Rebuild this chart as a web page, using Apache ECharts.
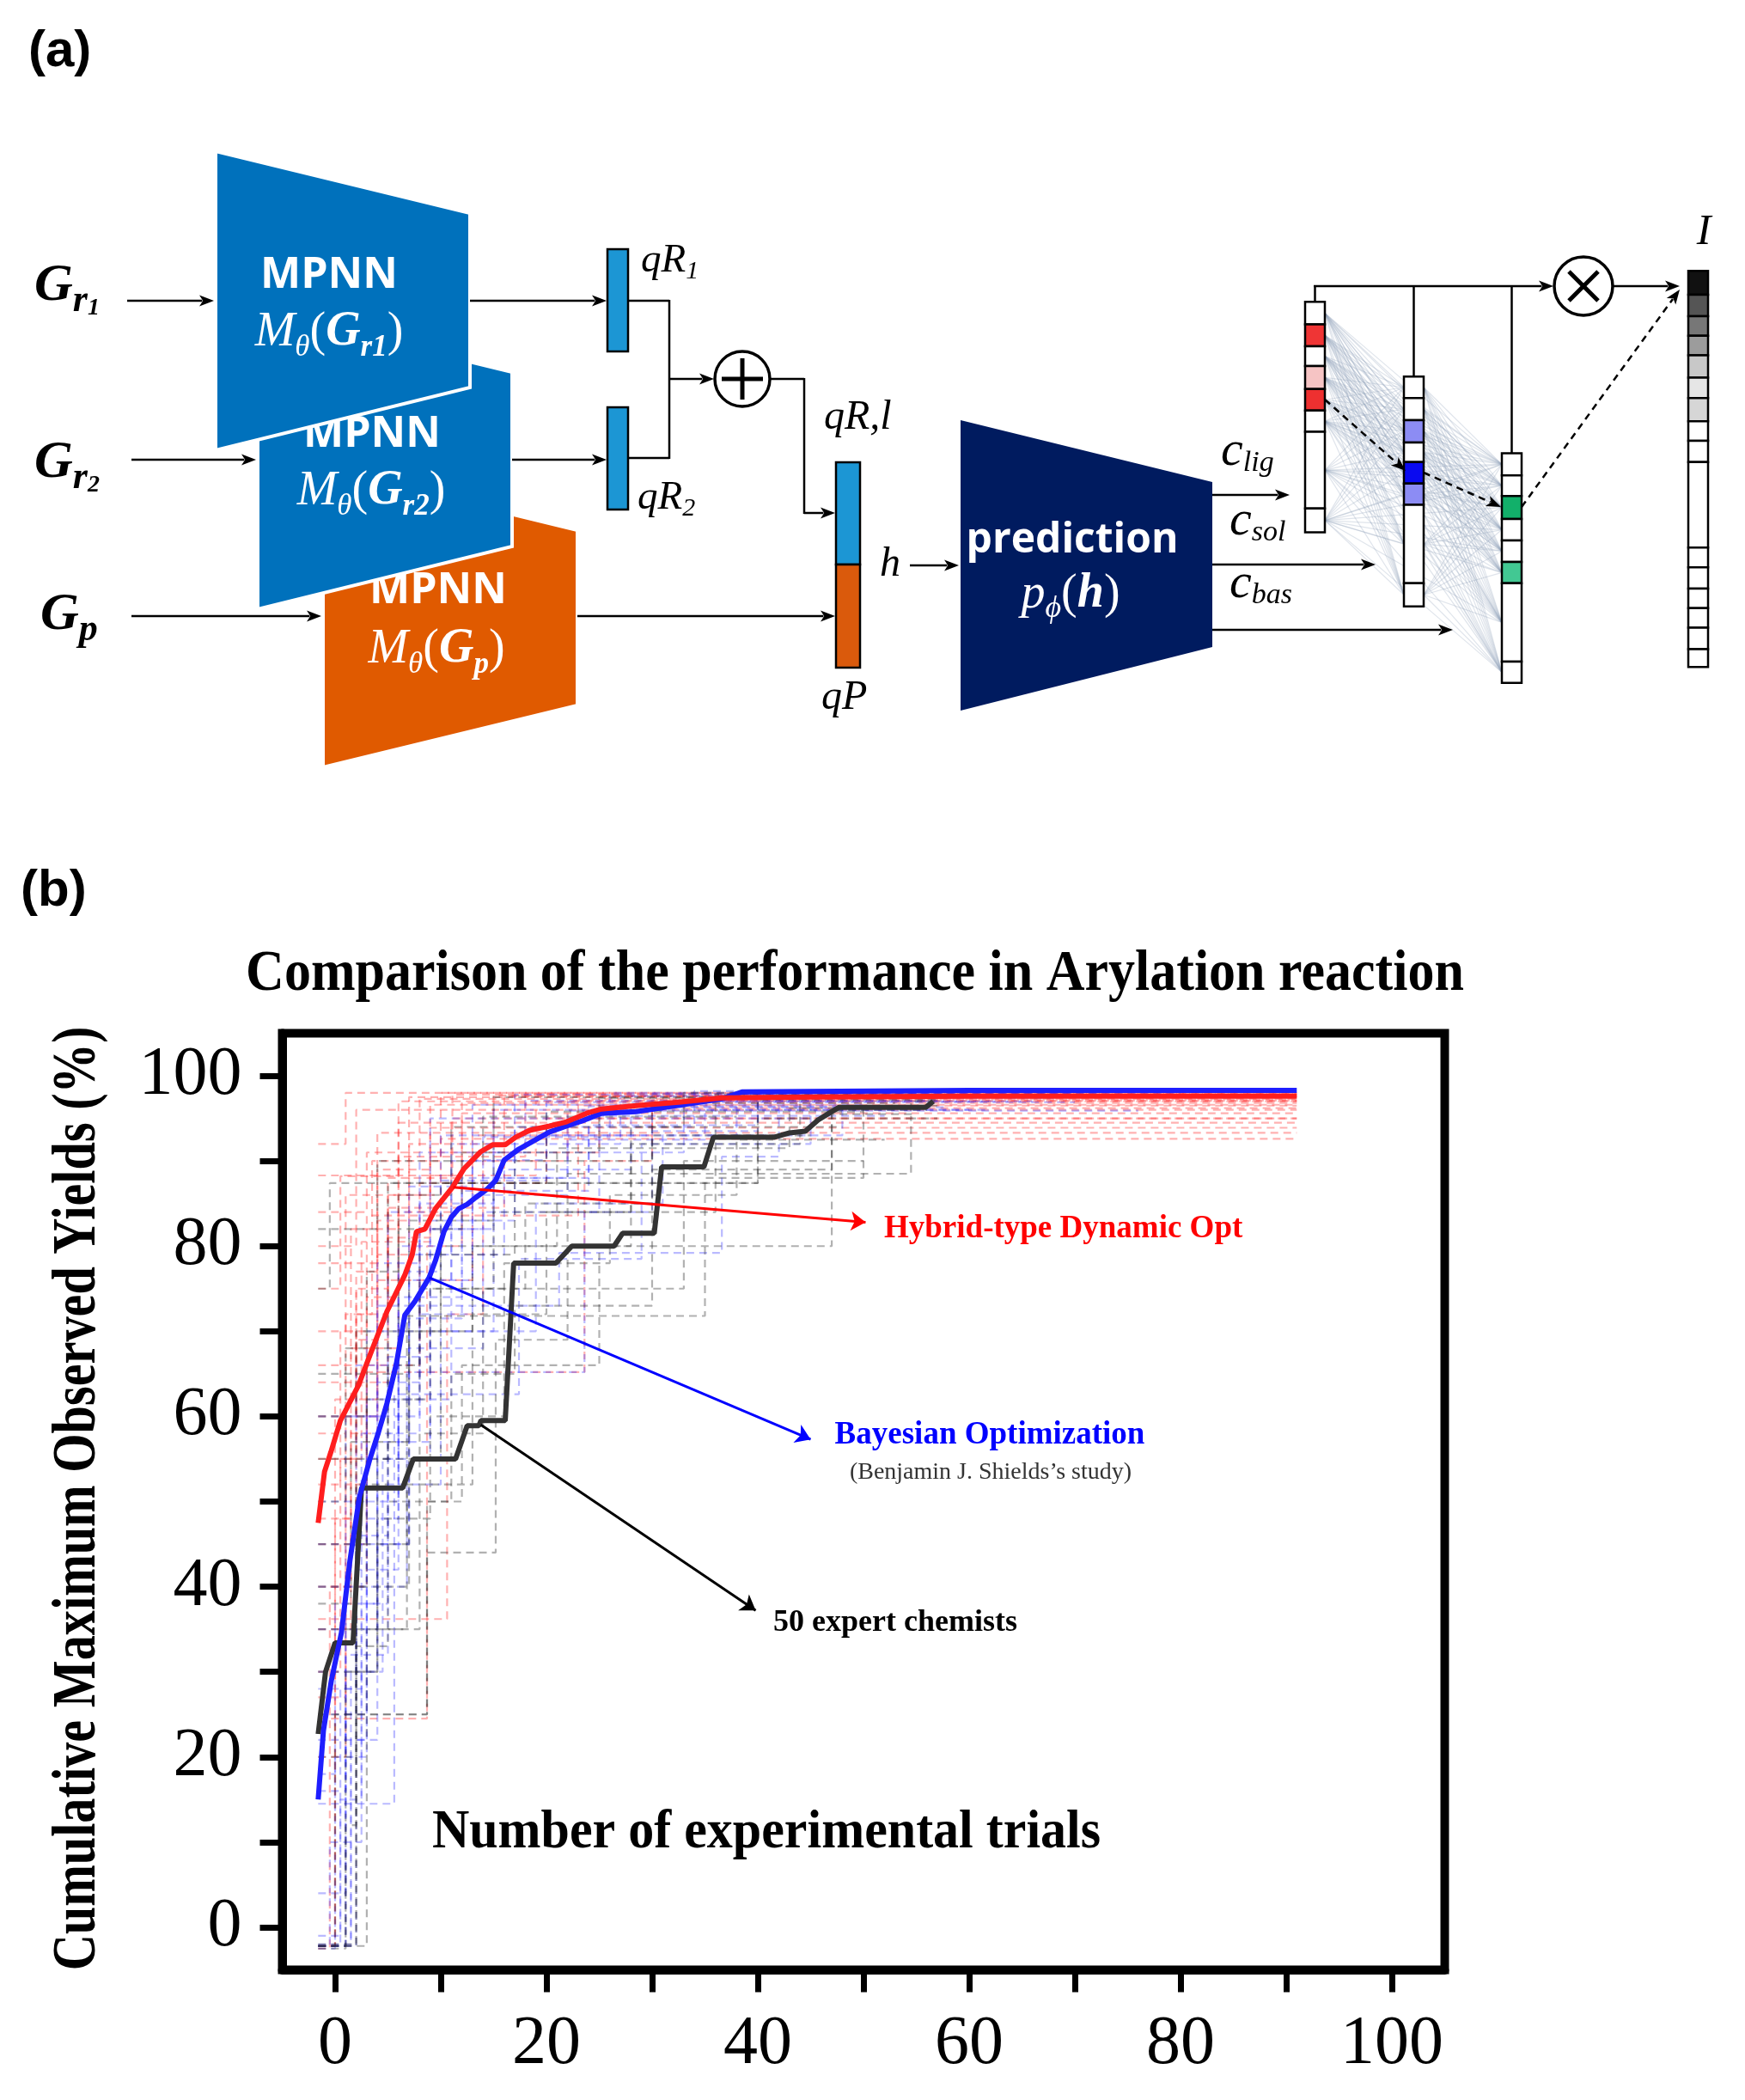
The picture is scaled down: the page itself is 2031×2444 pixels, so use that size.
<!DOCTYPE html>
<html><head><meta charset="utf-8">
<script src="https://cdn.jsdelivr.net/npm/echarts@6/dist/echarts.min.js"></script>
<style>html,body{margin:0;padding:0;background:#fff}#c{width:2031px;height:2444px}</style>
</head><body><div id="c"></div>
<script>
// ================= DATA =================
const xTicks = [0,10,20,30,40,50,60,70,80,90,100];
const xTickLabels = [0,20,40,60,80,100];
const yTicks = [0,10,20,30,40,50,60,70,80,90,100];
const yTickLabels = [0,20,40,60,80,100];

const hybridMean = [[-1.6,47.5],[-1.0,53.5],[-0.4,55.8],[0.5,59.5],[1.2,61.2],[2.2,63.6],[3.3,67.2],[4.9,72.3],[6.6,76.6],[7.3,79.0],[7.7,81.7],[8.5,82.0],[9.5,84.4],[11.1,86.9],[12.2,89.1],[13.8,91.1],[14.9,91.9],[16.1,91.9],[17.1,92.8],[18.4,93.6],[20.3,94.1],[21.9,94.6],[23.8,95.6],[25.2,96.1],[28.5,96.5],[32.5,96.9],[36.6,97.4],[45,97.5],[60,97.6],[91,97.6]];
const bayesMean = [[-1.6,15.0],[-1.1,23.1],[-0.35,29.0],[0.6,34.6],[1.4,43.0],[2.3,50.5],[3.25,54.8],[4.1,58.1],[4.9,61.5],[5.8,66.2],[6.6,71.9],[7.6,73.6],[8.9,76.3],[9.5,78.3],[10.3,81.7],[11.0,83.4],[11.7,84.4],[12.5,84.9],[13.3,85.7],[14.4,86.7],[15.2,87.7],[16.0,90.1],[17.4,91.4],[18.7,92.3],[20.3,93.4],[21.9,94.1],[23.6,94.8],[25.2,95.6],[28.5,95.8],[31.2,96.3],[33.9,96.8],[36.6,97.3],[38.5,98.1],[60,98.3],[91,98.3]];
const expertMean = [[-1.6,22.7],[-0.9,30.0],[0,33.4],[1.7,33.4],[2.5,51.6],[6.4,51.6],[7.4,55.0],[11.4,55.0],[12.5,58.9],[13.6,58.9],[13.8,59.5],[16.1,59.5],[16.9,78.0],[20.9,78.0],[22.4,80.0],[26.4,80.0],[27.2,81.5],[30.2,81.5],[30.9,89.3],[34.9,89.3],[35.8,92.8],[41.6,92.8],[43.0,93.3],[44.5,93.5],[45.7,94.8],[47.0,95.8],[47.7,96.3],[55.9,96.3],[56.6,97.0]];

// individual runs (cumulative max, step breakpoints)
const hybridRuns = [
  [[-1.6,88.3],[11.1,97.8],[91,97.8]],
  [[-1.6,52],[0.5,70],[3,83.6],[23,96.5],[91,96.5]],
  [[-1.6,24.5],[8.7,80],[12,95.6],[91,95.6]],
  [[-1.6,60],[2,75],[5,86],[9,93.9],[91,93.9]],
  [[-1.6,35],[0,62],[4,83],[7,97.5],[91,97.5]],
  [[-1.6,70],[1,86],[10,92.6],[91,92.6]],
  [[-1.6,45],[3,65.2],[23.6,90],[30,97.2],[91,97.2]],
  [[-1.6,80],[2,96],[91,96]],
  [[-1.6,-2.2],[0,48],[2,72],[5,88],[12,96.8],[91,96.8]],
  [[-1.6,64],[5,84.5],[16,97.6],[91,97.6]],
  [[-1.6,-2.5],[-0.5,40],[3,66],[8,87.4],[20,95],[91,95]],
  [[-1.6,55],[2.5,80.5],[9,91],[25,97.6],[91,97.6]],
  [[-1.6,75],[0.5,88.2],[6,97.0],[91,97.0]],
  [[-1.6,27],[1,58],[4,76],[13,93],[30,96.2],[91,96.2]],
  [[-1.6,92],[1,98],[91,98]],
  [[-1.6,40],[1.5,68],[6,90.5],[18,97.9],[91,97.9]],
  [[-1.6,84],[3,91],[8,97.3],[91,97.3]],
  [[-1.6,30],[0.5,55],[2,77],[4,89],[9,96.6],[91,96.6]],
  [[-1.6,66],[1.5,82],[6,94.5],[91,94.5]],
  [[-1.6,-2.2],[0,35],[1.5,60],[4,79],[7,92],[15,97.7],[91,97.7]],
  [[-1.6,58],[1,72],[3.5,90],[10,98],[91,98]],
  [[-1.6,20],[1,52],[3,74],[6,84],[11,95],[91,95]],
  [[-1.6,78],[4,93.3],[91,93.3]],
  [[-1.6,48],[2,69],[5,81],[9,88.3],[19,97],[91,97]],
  [[-1.6,36.2],[10.6,72],[14,90],[22,97.1],[91,97.1]]
];
const bayesRuns = [
  [[-1.6,-2.5],[0,20],[3,55],[6,80],[10,93],[30,97.9],[70,97.9]],
  [[-1.6,-2.2],[1,35],[4,64],[8,85],[15,96],[60,96]],
  [[-1.6,14.5],[5.6,62.6],[17.4,78.5],[29,92],[45,97.5],[75,97.5]],
  [[-1.6,30],[2,50],[6,71.5],[12,88],[22,95.9],[76,95.9]],
  [[-1.6,-2.2],[0.5,28],[2,45],[7,76],[11,90],[17,97.8],[65,97.8]],
  [[-1.6,22],[3,40],[6.8,65.2],[23.6,84],[30,93.5],[40,97],[62,97]],
  [[-1.6,-2],[1.5,30],[4,57],[9,82],[14,92.8],[26,98],[55,98]],
  [[-1.6,40],[2,66],[7,87],[13,96.6],[50,96.6]],
  [[-1.6,18],[0,38],[4,73],[21.2,79.2],[36.6,90.5],[42,97.4],[68,97.4]],
  [[-1.6,-2.2],[1,25],[3,48],[6,62],[11,79],[16,89],[28,96.3],[58,96.3]],
  [[-1.6,35],[1,60],[5,84],[9,95],[45,95]],
  [[-1.6,-2.2],[2,42],[6,74],[12,86.5],[24,94.2],[40,98],[72,98]],
  [[-1.6,50],[3,70],[8,82],[15,91],[33,97],[66,97]],
  [[-1.6,4],[1,32],[5,52],[10,70],[19,85],[31,93],[48,97.7],[74,97.7]],
  [[-1.6,25],[2,46],[5,67],[9,83],[17,94],[34,98.2],[60,98.2]],
  [[-1.6,-1],[0.5,15],[2.5,38],[5,58],[8,76],[13,90.1],[20,96.9],[70,96.9]],
  [[-1.6,45],[3,62],[7,79],[11,92],[27,97.6],[64,97.6]],
  [[-1.6,-2.2],[1.5,22],[4,45],[7,68],[14,84],[25,95.3],[52,95.3]],
  [[-1.6,28],[2.5,58],[6,77],[10,87.7],[20,93],[38,97.9],[80,97.9]],
  [[-1.6,60],[4,78],[8,91],[18,97.1],[57,97.1]],
  [[-1.6,16],[1,40],[3,60],[8,72],[13,86],[22,92.5],[35,96],[62,96]],
  [[-1.6,-2.2],[-0.5,10],[2.5,30],[4.5,55],[9,70],[15,88],[24,96.4],[54,96.4]]
];
const expertRuns = [
  [[-1.6,20],[2,45],[6.8,71.8],[35,88],[50,96.5],[57,96.5]],
  [[-1.6,-2.5],[1,30],[4,55],[10,87.4],[40,95],[54.5,97],[57,97]],
  [[-1.6,40],[3,62],[8,75],[18,85],[30,93],[45,93]],
  [[-1.6,-2.2],[2,33],[5,50],[12,66],[25,80],[47,96],[56,96]],
  [[-1.6,55],[5,87.4],[20,95.8],[50,95.8]],
  [[-1.6,30],[4,48],[9,60],[16,78],[26,86],[38,92.5],[52,92.5]],
  [[-1.6,-2.2],[0,25],[8.7,44],[15.2,69],[22,88.5],[54.5,95],[57,95]],
  [[-1.6,65],[7,83],[15,97.5],[42,97.5]],
  [[-1.6,-2.2],[3,35],[8,58],[14,75],[33,90],[50,90]],
  [[-1.6,45],[2,70],[10,80],[28,94],[48,94]],
  [[-1.6,75],[-0.5,87.4],[40,97.2],[57,97.2]],
  [[-1.6,35],[6.8,52],[13,72],[20,84],[36,97.8],[55,97.8]],
  [[-1.6,50],[1,68],[6,82],[12,91],[25,97.4],[46,97.4]],
  [[-1.6,25],[2,52],[5,66],[8,79],[17,90],[30,96.8],[53,96.8]],
  [[-1.6,-2],[2,40],[7,62],[9,75],[15,84],[28,92],[44,97.6],[58,97.6]],
  [[-1.6,60],[3,77],[6,86],[11,94],[33,98],[49,98]],
  [[-1.6,-2.2],[1,12],[2,25],[8.7,50],[11,65],[17,73],[30,89],[47,95.5],[55,95.5]],
  [[-1.6,82],[4,90],[14,95.2],[38,95.2]],
  [[-1.6,38],[1.5,57],[7,70],[13,80],[21,91.5],[43,96.2],[51,96.2]]
];

// annotation arrows (data coordinates: from curve to label)
const hybridArrow = [[11.2,86.9],[50.2,82.8]];
const bayesArrow = [[8.9,76.3],[45.0,57.3]];
const expertArrow = [[13.8,59.0],[39.8,37.2]];

// ================= STYLE =================
const SERIF = '"Liberation Serif","DejaVu Serif",serif';
const SANS = '"Open Sans","Liberation Sans",sans-serif';
const BLUE = '#0071BC', ORANGE = '#E05A00', NAVY = '#001B5F', BARBLUE = '#1C96D4';

// ================= DIAGRAM (panel a) =================
const G = [];
function add(el){ el.silent = true; G.push(el); return el; }
function ln(x1,y1,x2,y2,w,color,z,dash){ add({type:'line', z:z||20, shape:{x1,y1,x2,y2}, style:{stroke:color||'#000', lineWidth:w||2.5, lineDash:dash||null}}); }
function head(x1,y1,x2,y2,color,z,len,wid){
  len = len||17; wid = wid||13;
  const a = Math.atan2(y2-y1, x2-x1);
  const bx = x2 - len*Math.cos(a), by = y2 - len*Math.sin(a);
  const nx = x2 - len*0.75*Math.cos(a), ny = y2 - len*0.75*Math.sin(a);
  const px = -Math.sin(a)*wid/2, py = Math.cos(a)*wid/2;
  add({type:'polygon', z:(z||20)+1, shape:{points:[[x2,y2],[bx+px,by+py],[nx,ny],[bx-px,by-py]]}, style:{fill:color||'#000'}});
}
function arrow(x1,y1,x2,y2,opt){
  opt = opt||{};
  const a = Math.atan2(y2-y1, x2-x1), l = (opt.len||17)*0.8;
  ln(x1,y1,x2-l*Math.cos(a),y2-l*Math.sin(a),opt.w||2.5,opt.color,opt.z,opt.dash);
  head(x1,y1,x2,y2,opt.color,opt.z,opt.len,opt.wid);
}
function poly(points, fill, z, stroke){ add({type:'polygon', z, shape:{points}, style:{fill, stroke:stroke||'#fff', lineWidth:4, lineJoin:'miter'}}); }
function rect(x,y,w,h,fill,z,lw){ add({type:'rect', z:z||30, shape:{x,y,width:w,height:h}, style:{fill, stroke:'#000', lineWidth:lw||2.5}}); }
function txt(x,y,text,style,z,extra){
  const s = Object.assign({text, x:0, y:0, align:'left', verticalAlign:'middle'}, style);
  s.textAlign = s.align; s.textVerticalAlign = s.verticalAlign;
  add(Object.assign({type:'text', z:z||40, x, y, style:s}, extra||{}));
}
function tok(size, o){ return Object.assign({fontSize:size, fontFamily:SERIF, fontStyle:'italic', fontWeight:'normal', fill:'#000', color:'#000', lineHeight:size, verticalAlign:'middle'}, o||{}); }
function white(o){ return Object.assign(o,{fill:'#fff', color:'#fff'}); }

function mathM(x, y, sub, z){
  txt(x, y, '{m|M}{ms|θ}{p|(}{g|G}{gs|' + sub + '}{p|)}', {align:'center', rich:{
    m: white(tok(56,{lineHeight:70})),
    ms: white(tok(35,{lineHeight:32, verticalAlign:'bottom'})),
    p: white(tok(56,{lineHeight:70, fontStyle:'normal'})),
    g: white(tok(56,{lineHeight:70, fontWeight:'bold'})),
    gs: white(tok(35,{lineHeight:32, fontWeight:'bold', verticalAlign:'bottom'}))
  }}, z);
}
function mpnn(x, y, z){ txt(x, y, 'MPNN', {align:'center', fontSize:50, fontWeight:'bold', fontFamily:SANS, fill:'#fff'}, z); }

function buildDiagram(){
  // (a)
  txt(33, 60, '(a)', {fontSize:60, fontWeight:'bold', fontFamily:'"Liberation Sans",Arial,sans-serif', fill:'#000'});
  // trapezoids (back to front)
  poly([[376,545],[672,617],[672,821],[376,893]], ORANGE, 10);
  mpnn(510, 688, 11); mathM(508, 756, 'p', 11);
  poly([[300,361],[596,433],[596,636],[300,709]], BLUE, 12);
  mpnn(433, 506, 13); mathM(432, 572, 'r2', 13);
  poly([[251,176],[547,248],[547,451],[251,524]], BLUE, 14);
  mpnn(383, 321, 15); mathM(383, 387, 'r1', 15);

  // input labels
  const gRich = () => ({
    G: tok(62,{fontWeight:'bold', lineHeight:80}),
    r: tok(44,{fontWeight:'bold', lineHeight:40, verticalAlign:'bottom'}),
    o: tok(28,{fontWeight:'bold', lineHeight:13, verticalAlign:'bottom'}),
    pp: tok(44,{fontWeight:'bold', lineHeight:48, verticalAlign:'bottom'})
  });
  txt(40, 333, '{G|G}{r|r}{o|1}', {rich:gRich()});
  txt(40, 539, '{G|G}{r|r}{o|2}', {rich:gRich()});
  txt(47, 716, '{G|G}{pp|p}', {rich:gRich()});
  arrow(148,350,249,350); arrow(153,535,298,535); arrow(153,717,374,717);
  // outputs from encoders
  arrow(547,350,706,350); arrow(596,535,706,535); arrow(672,717,972,717);
  // qR bars
  rect(707,290,24,119,BARBLUE); rect(707,474,24,119,BARBLUE);
  const qRich = { a: tok(47,{lineHeight:54}), s: tok(30,{lineHeight:28, verticalAlign:'bottom'}) };
  txt(746, 304, '{a|qR}{s|1}', {rich:qRich});
  txt(742, 580, '{a|qR}{s|2}', {rich:qRich});
  ln(731,350,779,350); ln(731,533,779,533); ln(779,349,779,534);
  arrow(779,441,831,441);
  add({type:'circle', z:30, shape:{cx:864, cy:441, r:32}, style:{fill:'#fff', stroke:'#000', lineWidth:3.5}});
  ln(840,441,888,441,5,'#000',32); ln(864,417,864,465,5,'#000',32);
  ln(896,441,936,441); ln(936,440,936,598); arrow(936,597,972,597);
  // concatenated vector
  rect(973,538,28,119,BARBLUE); rect(973,657,28,120,'#DA5A0C');
  txt(959, 486, '{a|qR,l}', {rich:{a:tok(48)}});
  txt(956, 812, '{a|qP}', {rich:{a:tok(48)}});
  txt(1036, 657, '{a|h}', {align:'center', rich:{a:tok(48)}});
  arrow(1059,658,1116,658);
  // prediction block
  add({type:'polygon', z:10, shape:{points:[[1118,489],[1411,561],[1411,753],[1118,827]]}, style:{fill:NAVY}});
  txt(1248, 629, 'prediction', {align:'center', fontSize:48, fontWeight:'bold', fontFamily:SANS, fill:'#fff'}, 11);
  txt(1246, 692, '{p|p}{s|ϕ}{n|(}{h|h}{n|)}', {align:'center', rich:{
    p: white(tok(56,{lineHeight:70})),
    s: white(tok(36,{lineHeight:36, verticalAlign:'bottom'})),
    n: white(tok(56,{lineHeight:70, fontStyle:'normal'})),
    h: white(tok(56,{lineHeight:70, fontWeight:'bold'}))
  }}, 11);
  arrow(1411,576,1501,576); arrow(1411,657,1601,657); arrow(1411,733,1691,733);
  const cRich = { c: tok(58,{lineHeight:60}), s: tok(34,{lineHeight:8, verticalAlign:'bottom'}) };
  txt(1421, 526, '{c|c}{s|lig}', {rich:cRich});
  txt(1431, 607, '{c|c}{s|sol}', {rich:cRich});
  txt(1431, 680, '{c|c}{s|bas}', {rich:cRich});

  // vectors
  const col1 = {x:1519, b:[351.3,377.4,403.1,425.9,452.8,477.7,502.6,591.7,619.5], c:['#fff','#EF3535','#fff','#F6C4C4','#EE3030','#fff','#fff','#fff']};
  const col2 = {x:1634, b:[438.3,463.2,488.9,515,537.8,562.7,587.6,678.8,705.7], c:['#fff','#fff','#8C8CF4','#fff','#0A0AF0','#8C8CF4','#fff','#fff']};
  const col3 = {x:1748, b:[527.5,553.2,577.2,604.1,629,653.9,678.8,770,794.8], c:['#fff','#fff','#12B06A','#fff','#fff','#42C893','#fff','#fff']};
  const col4 = {x:1965, b:[315.2,343,367.9,390.7,413.5,439.6,463.2,490.2,513,537.8,637.3,660.2,685,707.8,730.6,755.5,776.2], c:['#111','#555','#777','#9C9C9C','#C8C8C8','#E6E6E6','#D6D6D6','#fff','#fff','#fff','#fff','#fff','#fff','#fff','#fff','#fff']};
  const W = 23;
  const centers = col => col.c.map((_,i)=>(col.b[i]+col.b[i+1])/2);
  // network lines
  const net = (ca, cb) => centers(ca).forEach(ya => centers(cb).forEach(yb => ln(ca.x+W, ya, cb.x, yb, 1.2, 'rgba(150,165,190,0.30)', 5)));
  net(col1, col2); net(col2, col3); net(col1, col3);
  [col1,col2,col3,col4].forEach(col => col.c.forEach((f,i)=>rect(col.x, col.b[i], W, col.b[i+1]-col.b[i], f, 30, 2.5)));
  // top connector
  ln(1530.5,333,1530.5,352); ln(1645.5,333,1645.5,439); ln(1759.5,333,1759.5,528);
  arrow(1529,333,1808,333);
  add({type:'circle', z:30, shape:{cx:1843, cy:333, r:34}, style:{fill:'#fff', stroke:'#000', lineWidth:3.5}});
  ln(1826,316,1860,350,5,'#000',32); ln(1860,316,1826,350,5,'#000',32);
  arrow(1878,333,1955,333);
  txt(1983, 271, '{a|I}', {align:'center', rich:{a:tok(50)}});
  // dashed selection arrows
  arrow(1542,465,1636,548,{dash:[8,6], z:35});
  arrow(1657,550,1747,590,{dash:[8,6], z:35});
  arrow(1771,590,1955,337,{dash:[8,6], z:35});

  // ---- panel (b) texts ----
  txt(24, 1037, '(b)', {fontSize:60, fontWeight:'bold', fontFamily:'"Liberation Sans",Arial,sans-serif', fill:'#000'});
  txt(995, 1134, 'Comparison of the performance in Arylation reaction', {align:'center', fontSize:62, fontWeight:'bold', fontFamily:SERIF, fill:'#000'}, 40, {scaleY:1.1});
  txt(92, 1744, 'Cumulative Maximum Observed Yields (%)', {align:'center', fontSize:62, fontWeight:'bold', fontFamily:SERIF, fill:'#000'}, 40, {rotation:Math.PI/2, scaleX:0.94, scaleY:1.15});
  txt(892, 2134, 'Number of experimental trials', {align:'center', fontSize:60, fontWeight:'bold', fontFamily:SERIF, fill:'#000'}, 40, {scaleY:1.05});
  txt(1029, 1430, 'Hybrid-type Dynamic Opt', {fontSize:37, fontWeight:'bold', fontFamily:SERIF, fill:'#FF0000'});
  txt(1152, 1670, 'Bayesian Optimization', {align:'center', fontSize:37, fontWeight:'bold', fontFamily:SERIF, fill:'#0000FF'});
  txt(1153, 1714, '(Benjamin J. Shields’s study)', {align:'center', fontSize:28, fontFamily:SERIF, fill:'#333'});
  txt(900, 1889, '50 expert chemists', {fontSize:36, fontWeight:'bold', fontFamily:SERIF, fill:'#000'});
}
buildDiagram();

// ================= CHART (panel b) =================
function runSeries(runs, color){
  return runs.map(r => ({type:'line', data:r, step:'end', showSymbol:false, symbol:'none', silent:true, z:1,
    lineStyle:{color, width:2.2, type:[9,6]}}));
}
function arrowSeries(coords, color){
  return {type:'lines', coordinateSystem:'cartesian2d', silent:true, z:6, symbol:['none','arrow'], symbolSize:17,
    lineStyle:{color, width:3, opacity:1, curveness:0}, data:[{coords}]};
}
const axisCommon = {
  type:'value', axisLine:{show:true, onZero:false, lineStyle:{color:'#000', width:10}},
  splitLine:{show:false},
};
const chart = echarts.init(document.getElementById('c'), null, {renderer:'canvas', width:2031, height:2444});
chart.setOption({
  animation:false,
  backgroundColor:'#fff',
  grid:{left:328.5, top:1202.5, width:1353, height:1090, show:true, borderColor:'#000', borderWidth:10, containLabel:false},
  xAxis: Object.assign({}, axisCommon, {min:-5, max:105,
    axisTick:{show:true, inside:false, length:26, lineStyle:{color:'#000', width:7}, customValues:xTicks},
    axisLabel:{show:true, customValues:xTickLabels, fontSize:80, fontFamily:SERIF, color:'#000', margin:47}}),
  yAxis: Object.assign({}, axisCommon, {min:-5, max:105,
    axisTick:{show:true, inside:false, length:26, lineStyle:{color:'#000', width:7}, customValues:yTicks},
    axisLabel:{show:true, customValues:yTickLabels, fontSize:80, fontFamily:SERIF, color:'#000', margin:47}}),
  graphic:{elements:G},
  series: [].concat(
    runSeries(hybridRuns, 'rgba(255,40,40,0.36)'),
    runSeries(bayesRuns, 'rgba(40,40,255,0.32)'),
    runSeries(expertRuns, 'rgba(40,40,40,0.36)'),
    [
      {type:'line', data:expertMean, showSymbol:false, symbol:'none', z:3, silent:true, lineStyle:{color:'#333333', width:6}},
      {type:'line', data:bayesMean, showSymbol:false, symbol:'none', z:4, silent:true, lineStyle:{color:'#1E1EFF', width:6}},
      {type:'line', data:hybridMean, showSymbol:false, symbol:'none', z:5, silent:true, lineStyle:{color:'#FF1E1E', width:6}},
      arrowSeries(hybridArrow, '#FF0000'),
      arrowSeries(bayesArrow, '#0000FF'),
      arrowSeries(expertArrow, '#000000')
    ])
});
</script></body></html>
